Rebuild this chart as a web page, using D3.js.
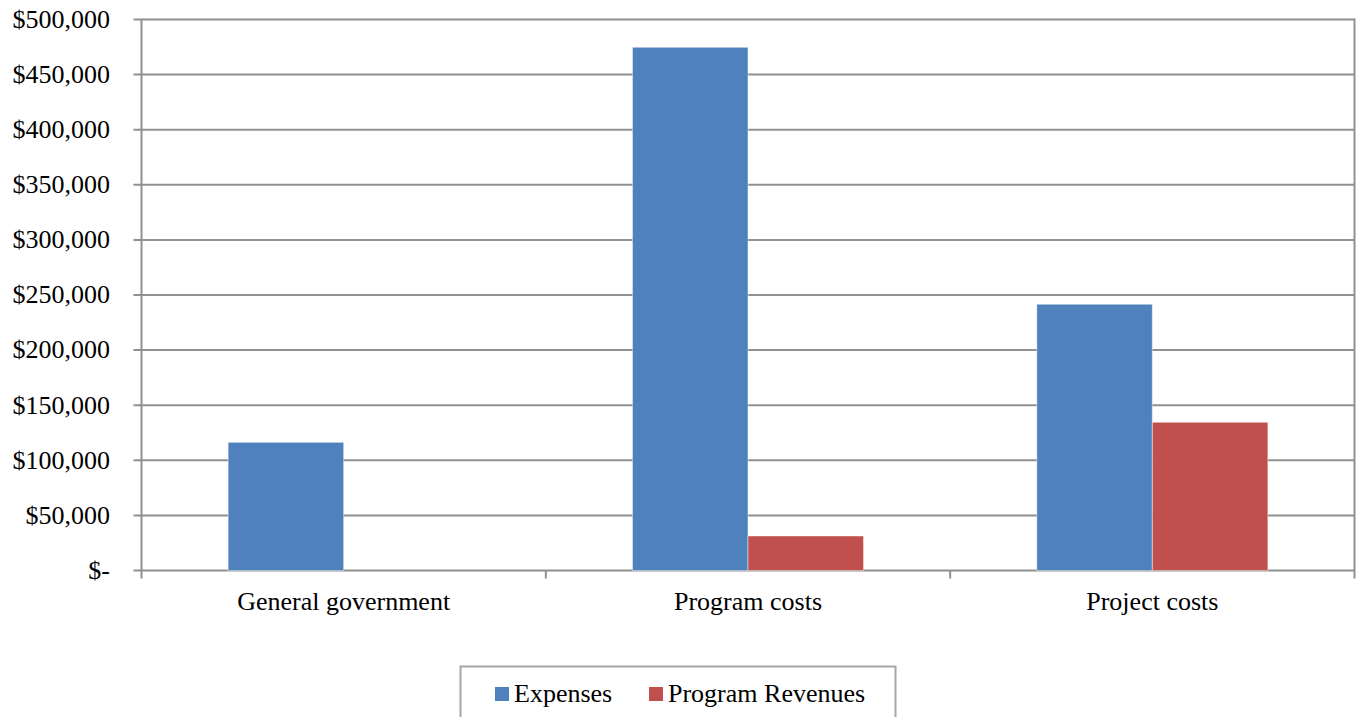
<!DOCTYPE html>
<html>
<head>
<meta charset="utf-8">
<script src="https://cdn.jsdelivr.net/npm/d3@7"></script>
<style>
  body { margin: 0; background: #fff; overflow: hidden; }
  .grid line { stroke: #909090; stroke-width: 2px; }
  .tick-label { font-family: 'Liberation Serif', 'Times New Roman', Tinos, 'DejaVu Serif', serif; font-size: 26px; fill: #000; }
  .bar { stroke: rgba(255,255,255,0.45); stroke-width: 1px; }
</style>
</head>
<body>
<div id="chart"></div>
<script>
// data
const categories = ['General government', 'Program costs', 'Project costs']
const seriesNames = ['Expenses', 'Program Revenues']
const expenses = [116300, 474800, 241600]
const revenues = [0, 31300, 134500]
const yTicks = [0, 50000, 100000, 150000, 200000, 250000, 300000, 350000, 400000, 450000, 500000]

//consts
const
  width = 1360,
  height = 717,
  plotLeft = 141.5,
  plotRight = 1354.5,
  plotTop = 19.5,
  plotBottom = 570.5,
  colors = ['#4f81bd', '#c0504d']

const svg = d3.select('#chart')
  .append('svg')
  .attr('width', width)
  .attr('height', height)
  .style('display', 'block')

//scales
const x = d3.scaleBand()
  .domain(categories)
  .range([plotLeft, plotRight])
  .paddingInner(0)
  .paddingOuter(0)

// excel gap width 150% -> bar = band / 3.5
const barW = x.bandwidth() / 3.5
const xInner = d3.scaleBand()
  .domain(seriesNames)
  .range([barW * 0.75, barW * 2.75])

const y = d3.scaleLinear()
  .domain([0, 500000])
  .range([plotBottom, plotTop])

const fmt = v => v === 0 ? '$-' : '$' + d3.format(',')(v)

//gridlines
const grid = svg.append('g').attr('class', 'grid')
grid.selectAll('line.h')
  .data(yTicks)
  .enter()
  .append('line')
  .attr('x1', plotLeft - 8)
  .attr('x2', plotRight)
  .attr('y1', d => y(d))
  .attr('y2', d => y(d))

//y axis line
grid.append('line')
  .attr('x1', plotLeft).attr('x2', plotLeft)
  .attr('y1', plotTop).attr('y2', plotBottom + 8)
//right border
grid.append('line')
  .attr('x1', plotRight).attr('x2', plotRight)
  .attr('y1', plotTop - 1).attr('y2', plotBottom + 8)

//x ticks at band edges
grid.selectAll('line.xt')
  .data(categories.slice(1))
  .enter()
  .append('line')
  .attr('x1', d => x(d)).attr('x2', d => x(d))
  .attr('y1', plotBottom).attr('y2', plotBottom + 8)

//y labels
svg.append('g')
  .selectAll('text')
  .data(yTicks)
  .enter()
  .append('text')
  .attr('class', 'tick-label')
  .attr('x', 110)
  .attr('y', d => y(d))
  .attr('dy', '0.32em')
  .attr('text-anchor', 'end')
  .text(fmt)

//bars
const rows = categories.map((c, i) => ({ cat: c, vals: [expenses[i], revenues[i]] }))
const group = svg.append('g')
  .selectAll('g')
  .data(rows)
  .enter()
  .append('g')
  .attr('transform', d => 'translate(' + x(d.cat) + ',0)')

group.selectAll('rect')
  .data(d => d.vals.map((v, j) => ({ name: seriesNames[j], v: v, j: j })).filter(d => d.v > 0))
  .enter()
  .append('rect')
  .attr('class', 'bar')
  .attr('x', d => xInner(d.name))
  .attr('width', xInner.bandwidth())
  .attr('y', d => y(d.v))
  .attr('height', d => y(0) - y(d.v))
  .attr('fill', d => colors[d.j])

//x labels
svg.append('g')
  .selectAll('text')
  .data(categories)
  .enter()
  .append('text')
  .attr('class', 'tick-label')
  .attr('x', d => x(d) + x.bandwidth() / 2)
  .attr('y', 610)
  .attr('text-anchor', 'middle')
  .text(d => d)

//legend
const legend = svg.append('g')
legend.append('rect')
  .attr('x', 460.5).attr('y', 666.5)
  .attr('width', 435).attr('height', 80)
  .attr('fill', '#fff')
  .attr('stroke', '#a6a6a6')
  .attr('stroke-width', 2)

const legendX = [495, 649]
const item = legend.selectAll('g')
  .data(seriesNames)
  .enter()
  .append('g')
  .attr('transform', (d, i) => 'translate(' + legendX[i] + ',0)')
item.append('rect')
  .attr('x', 0).attr('y', 687)
  .attr('width', 14).attr('height', 14)
  .attr('fill', (d, i) => colors[i])
item.append('text')
  .attr('class', 'tick-label')
  .attr('x', 19).attr('y', 702)
  .text(d => d)
</script>
</body>
</html>
